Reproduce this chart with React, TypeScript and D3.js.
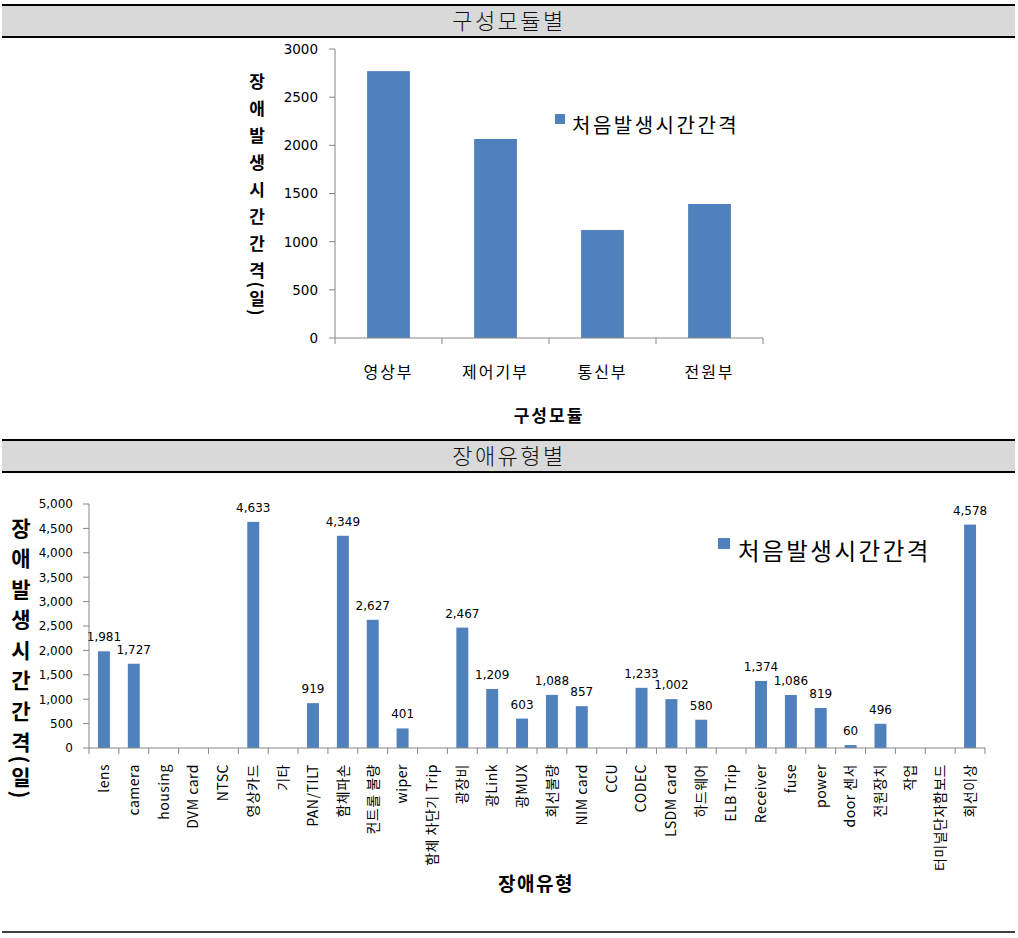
import React from "react";
import * as d3 from "d3";

const moduleCats = ["영상부", "제어기부", "통신부", "전원부"];
const moduleVals = [2770, 2066, 1121, 1391];
const moduleTicks = [0, 500, 1000, 1500, 2000, 2500, 3000];

const typeCats = [
  "lens", "camera", "housing", "DVM card", "NTSC", "영상카드", "기타", "PAN/TILT",
  "함체파손", "컨트롤 불량", "wiper", "함체 차단기 Trip", "광장비", "광Link", "광MUX",
  "회선불량", "NIM card", "CCU", "CODEC", "LSDM card", "하드웨어", "ELB Trip",
  "Receiver", "fuse", "power", "door 센서", "전원장치", "작업", "터미널단자함보드", "회선이상",
];
const typeVals = [
  1981, 1727, 0, 0, 0, 4633, 0, 919, 4349, 2627, 401, 0, 2467, 1209, 603,
  1088, 857, 0, 1233, 1002, 580, 0, 1374, 1086, 819, 60, 496, 0, 0, 4578,
];
const typeTicks = [0, 500, 1000, 1500, 2000, 2500, 3000, 3500, 4000, 4500, 5000];

const seriesName = "처음발생시간간격";
const yTitleHead = "장애발생시간간";
const yTitleTail = "격(일)";

const BAR = "#4f81bd";
const AXIS = "#868686";
const KR = "'Noto Sans CJK KR', 'Noto Sans', sans-serif";
const NUM = "'DejaVu Sans', sans-serif";

function Band({ y, label }: { y: number; label: string }) {
  return (
    <g>
      <rect x={2} y={y} width={1013} height={32} fill="#d9d9d9" />
      <line x1={2} x2={1015} y1={y} y2={y} stroke="#000" strokeWidth={2} />
      <line x1={2} x2={1015} y1={y + 32} y2={y + 32} stroke="#000" strokeWidth={2} />
      <text x={509} y={y + 24} textAnchor="middle" fontFamily={KR} fontSize={22} fontWeight={300}
        letterSpacing={2.5} fill="#111">
        {label}
      </text>
    </g>
  );
}

function VTitle({ x, y0, size, spacing, tailSpacing }: { x: number; y0: number; size: number; spacing: number; tailSpacing: number }) {
  return (
    <text x={x} y={y0} fontFamily={KR} fontWeight={700} fontSize={size} fill="#000"
      style={{ writingMode: "vertical-rl" } as React.CSSProperties}>
      <tspan style={{ letterSpacing: `${spacing}px` }}>{yTitleHead}</tspan>
      <tspan style={{ letterSpacing: `${tailSpacing}px` }}>{yTitleTail}</tspan>
    </text>
  );
}

function TopChart() {
  const x = d3.scaleBand<string>().domain(moduleCats).range([335, 763]).paddingInner(0.6).paddingOuter(0.3);
  const y = d3.scaleLinear().domain([0, 3000]).range([338, 49]);
  const step = x.step();
  return (
    <g>
      {moduleCats.map((c, i) => (
        <rect key={c} x={x(c)!} y={y(moduleVals[i])} width={x.bandwidth()} height={y(0) - y(moduleVals[i])} fill={BAR} />
      ))}
      <line x1={335} x2={335} y1={49} y2={338} stroke={AXIS} />
      {moduleTicks.map((t) => (
        <g key={t}>
          <line x1={329} x2={335} y1={y(t)} y2={y(t)} stroke={AXIS} />
          <text x={318} y={y(t)} dy="0.36em" textAnchor="end" fontFamily={NUM} fontSize={13.5} fill="#000">
            {t}
          </text>
        </g>
      ))}
      <line x1={335} x2={763} y1={338} y2={338} stroke={AXIS} />
      {d3.range(moduleCats.length + 1).map((k) => (
        <line key={k} x1={335 + k * step} x2={335 + k * step} y1={338} y2={344} stroke={AXIS} />
      ))}
      {moduleCats.map((c) => (
        <text key={c} x={x(c)! + x.bandwidth() / 2} y={378} textAnchor="middle" fontFamily={KR} fontSize={16}
          letterSpacing={2} fill="#000">
          {c}
        </text>
      ))}
      <text x={549} y={422} textAnchor="middle" fontFamily={KR} fontSize={17} fontWeight={700} letterSpacing={2}
        fill="#000">
        구성모듈
      </text>
      <VTitle x={257} y0={73.5} size={17} spacing={10} tailSpacing={2} />
      <rect x={555} y={114} width={10} height={10} fill={BAR} />
      <text x={572} y={126} dy="0.35em" fontFamily={KR} fontSize={20} letterSpacing={2.5} fill="#000">
        {seriesName}
      </text>
    </g>
  );
}

function BottomChart() {
  const x = d3.scaleBand<string>().domain(typeCats).range([89, 985]).paddingInner(0.6).paddingOuter(0.3);
  const y = d3.scaleLinear().domain([0, 5000]).range([748, 504]);
  const step = x.step();
  const fmt = d3.format(",");
  return (
    <g>
      {typeCats.map((c, i) => (
        <rect key={c} x={x(c)!} y={y(typeVals[i])} width={x.bandwidth()} height={y(0) - y(typeVals[i])} fill={BAR} />
      ))}
      {typeCats.map((c, i) =>
        typeVals[i] > 0 ? (
          <text key={c} x={x(c)! + x.bandwidth() / 2} y={y(typeVals[i]) - 10} textAnchor="middle"
            fontFamily={NUM} fontSize={12} fill="#000">
            {fmt(typeVals[i])}
          </text>
        ) : null
      )}
      <line x1={89} x2={89} y1={504} y2={748} stroke={AXIS} />
      {typeTicks.map((t) => (
        <g key={t}>
          <line x1={83} x2={89} y1={y(t)} y2={y(t)} stroke={AXIS} />
          <text x={73} y={y(t)} dy="0.36em" textAnchor="end" fontFamily={NUM} fontSize={12} fill="#000">
            {fmt(t)}
          </text>
        </g>
      ))}
      <line x1={89} x2={985} y1={748} y2={748} stroke={AXIS} />
      {d3.range(typeCats.length + 1).map((k) => (
        <line key={k} x1={89 + k * step} x2={89 + k * step} y1={748} y2={754} stroke={AXIS} />
      ))}
      {typeCats.map((c) => {
        const cx = x(c)! + x.bandwidth() / 2;
        return (
          <text key={c} x={cx} y={764} transform={`rotate(-90 ${cx} 764)`} textAnchor="end" dy="0.35em"
            fontFamily={KR} fontSize={14} letterSpacing={0.5} fill="#000">
            {c}
          </text>
        );
      })}
      <text x={536} y={891} textAnchor="middle" fontFamily={KR} fontSize={19} fontWeight={700} letterSpacing={1.5}
        fill="#000">
        장애유형
      </text>
      <VTitle x={21} y0={517.5} size={21} spacing={9.5} tailSpacing={3} />
      <rect x={718} y={538} width={12} height={11} fill={BAR} />
      <text x={738} y={552} dy="0.35em" fontFamily={KR} fontSize={23.5} letterSpacing={2.5} fill="#000">
        {seriesName}
      </text>
    </g>
  );
}

export default function App() {
  return (
    <svg width={1018} height={938} style={{ position: "absolute", left: 0, top: 0, background: "#fff" }}>
      <rect x={0} y={0} width={1018} height={938} fill="#fff" />
      <Band y={5} label="구성모듈별" />
      <TopChart />
      <Band y={440} label="장애유형별" />
      <BottomChart />
      <line x1={2} x2={1015} y1={932} y2={932} stroke="#000" strokeWidth={1.5} />
    </svg>
  );
}
